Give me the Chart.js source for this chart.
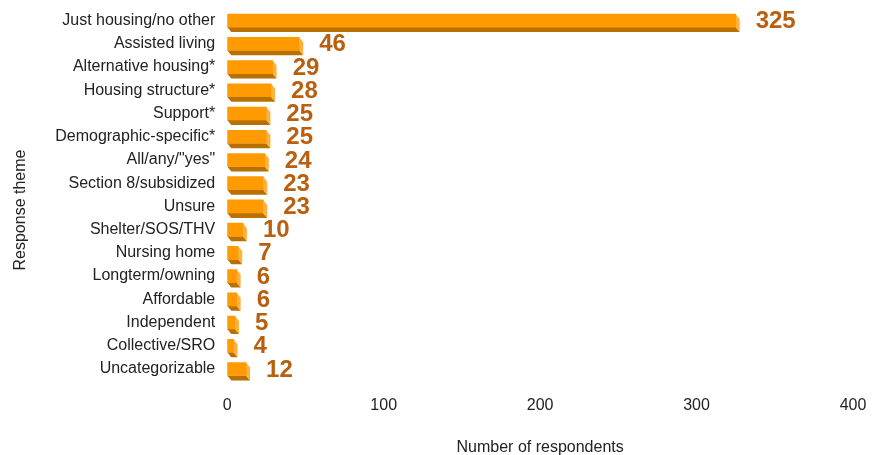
<!DOCTYPE html>
<html lang="en">
<head>
    <meta charset="UTF-8">
    <title>Response themes</title>
    <script src="https://cdn.jsdelivr.net/npm/chart.js"></script>
    <style>
        body { margin: 0; background: #fff; }
        #wrap { width: 882px; height: 455px; }
    </style>
</head>
<body>
    <div id="wrap"><canvas id="themeChart"></canvas></div>

    <script>
        const themes = [
            'Just housing/no other', 'Assisted living', 'Alternative housing*', 'Housing structure*',
            'Support*', 'Demographic-specific*', 'All/any/"yes"', 'Section 8/subsidized',
            'Unsure', 'Shelter/SOS/THV', 'Nursing home', 'Longterm/owning',
            'Affordable', 'Independent', 'Collective/SRO', 'Uncategorizable'
        ];
        const respondents = [325, 46, 29, 28, 25, 25, 24, 23, 23, 10, 7, 6, 6, 5, 4, 12];
        const xTicks = [0, 100, 200, 300, 400];

        const fontFam = '"Liberation Sans", Arial, sans-serif';

        // draws the 3d depth behind each bar, the value next to it and the y title
        const bar3d = {
            id: 'bar3d',
            beforeDatasetsDraw(chart) {
                const ctx = chart.ctx;
                const d = 4, dy = 5;
                chart.getDatasetMeta(0).data.forEach(bar => {
                    const top = bar.y - bar.height / 2;
                    const bot = bar.y + bar.height / 2;
                    ctx.save();
                    ctx.fillStyle = '#b87000';
                    ctx.beginPath();
                    ctx.moveTo(bar.base, bot);
                    ctx.lineTo(bar.x, bot);
                    ctx.lineTo(bar.x + d, bot + dy);
                    ctx.lineTo(bar.base + d, bot + dy);
                    ctx.closePath();
                    ctx.fill();
                    ctx.fillStyle = '#ffb13d';
                    ctx.beginPath();
                    ctx.moveTo(bar.x, top);
                    ctx.lineTo(bar.x + d, top + dy);
                    ctx.lineTo(bar.x + d, bot + dy);
                    ctx.lineTo(bar.x, bot);
                    ctx.closePath();
                    ctx.fill();
                    ctx.restore();
                });
            },
            afterDatasetsDraw(chart) {
                const ctx = chart.ctx;
                ctx.save();
                ctx.font = 'bold 24px ' + fontFam;
                ctx.fillStyle = '#b8600f';
                ctx.textBaseline = 'middle';
                ctx.textAlign = 'left';
                chart.getDatasetMeta(0).data.forEach((bar, i) => {
                    ctx.fillText(respondents[i], bar.x + 20, bar.y + 1);
                });
                ctx.restore();

                // y axis title sits a bit lower than the axis centre
                ctx.save();
                ctx.translate(21, 210);
                ctx.rotate(-Math.PI / 2);
                ctx.font = '16px ' + fontFam;
                ctx.fillStyle = '#222';
                ctx.textAlign = 'center';
                ctx.textBaseline = 'middle';
                ctx.fillText('Response theme', 0, 0);
                ctx.restore();
            }
        };

        new Chart(document.getElementById('themeChart'), {
            type: 'bar',
            data: {
                labels: themes,
                datasets: [{
                    data: respondents,
                    backgroundColor: '#ff9a00',
                    borderWidth: 0,
                    barThickness: 13
                }]
            },
            options: {
                indexAxis: 'y',
                responsive: true,
                maintainAspectRatio: false,
                animation: false,
                layout: { padding: { top: 9, right: 29, left: 10, bottom: -2 } },
                plugins: {
                    legend: { display: false },
                    tooltip: { enabled: false }
                },
                scales: {
                    x: {
                        min: 0,
                        max: 400,
                        afterBuildTicks: axis => { axis.ticks = xTicks.map(v => ({ value: v })); },
                        grid: { display: false, drawTicks: false },
                        border: { display: false },
                        ticks: {
                            color: '#222',
                            padding: 15,
                            font: { family: fontFam, size: 16 }
                        },
                        title: {
                            display: true,
                            text: 'Number of respondents',
                            color: '#222',
                            padding: { top: 8, bottom: 0 },
                            font: { family: fontFam, size: 16 }
                        }
                    },
                    y: {
                        afterFit: axis => { axis.paddingTop = 0; axis.paddingBottom = 0; },
                        grid: { display: false, drawTicks: false },
                        border: { display: false },
                        ticks: {
                            color: '#222',
                            padding: 12,
                            autoSkip: false,
                            font: { family: fontFam, size: 16 }
                        },
                        title: {
                            // space kept here, text drawn by the plugin
                            display: true,
                            text: 'Response theme',
                            color: 'rgba(0,0,0,0)',
                            padding: { bottom: 10 },
                            font: { family: fontFam, size: 16 }
                        }
                    }
                }
            },
            plugins: [bar3d]
        });
    </script>
</body>
</html>
